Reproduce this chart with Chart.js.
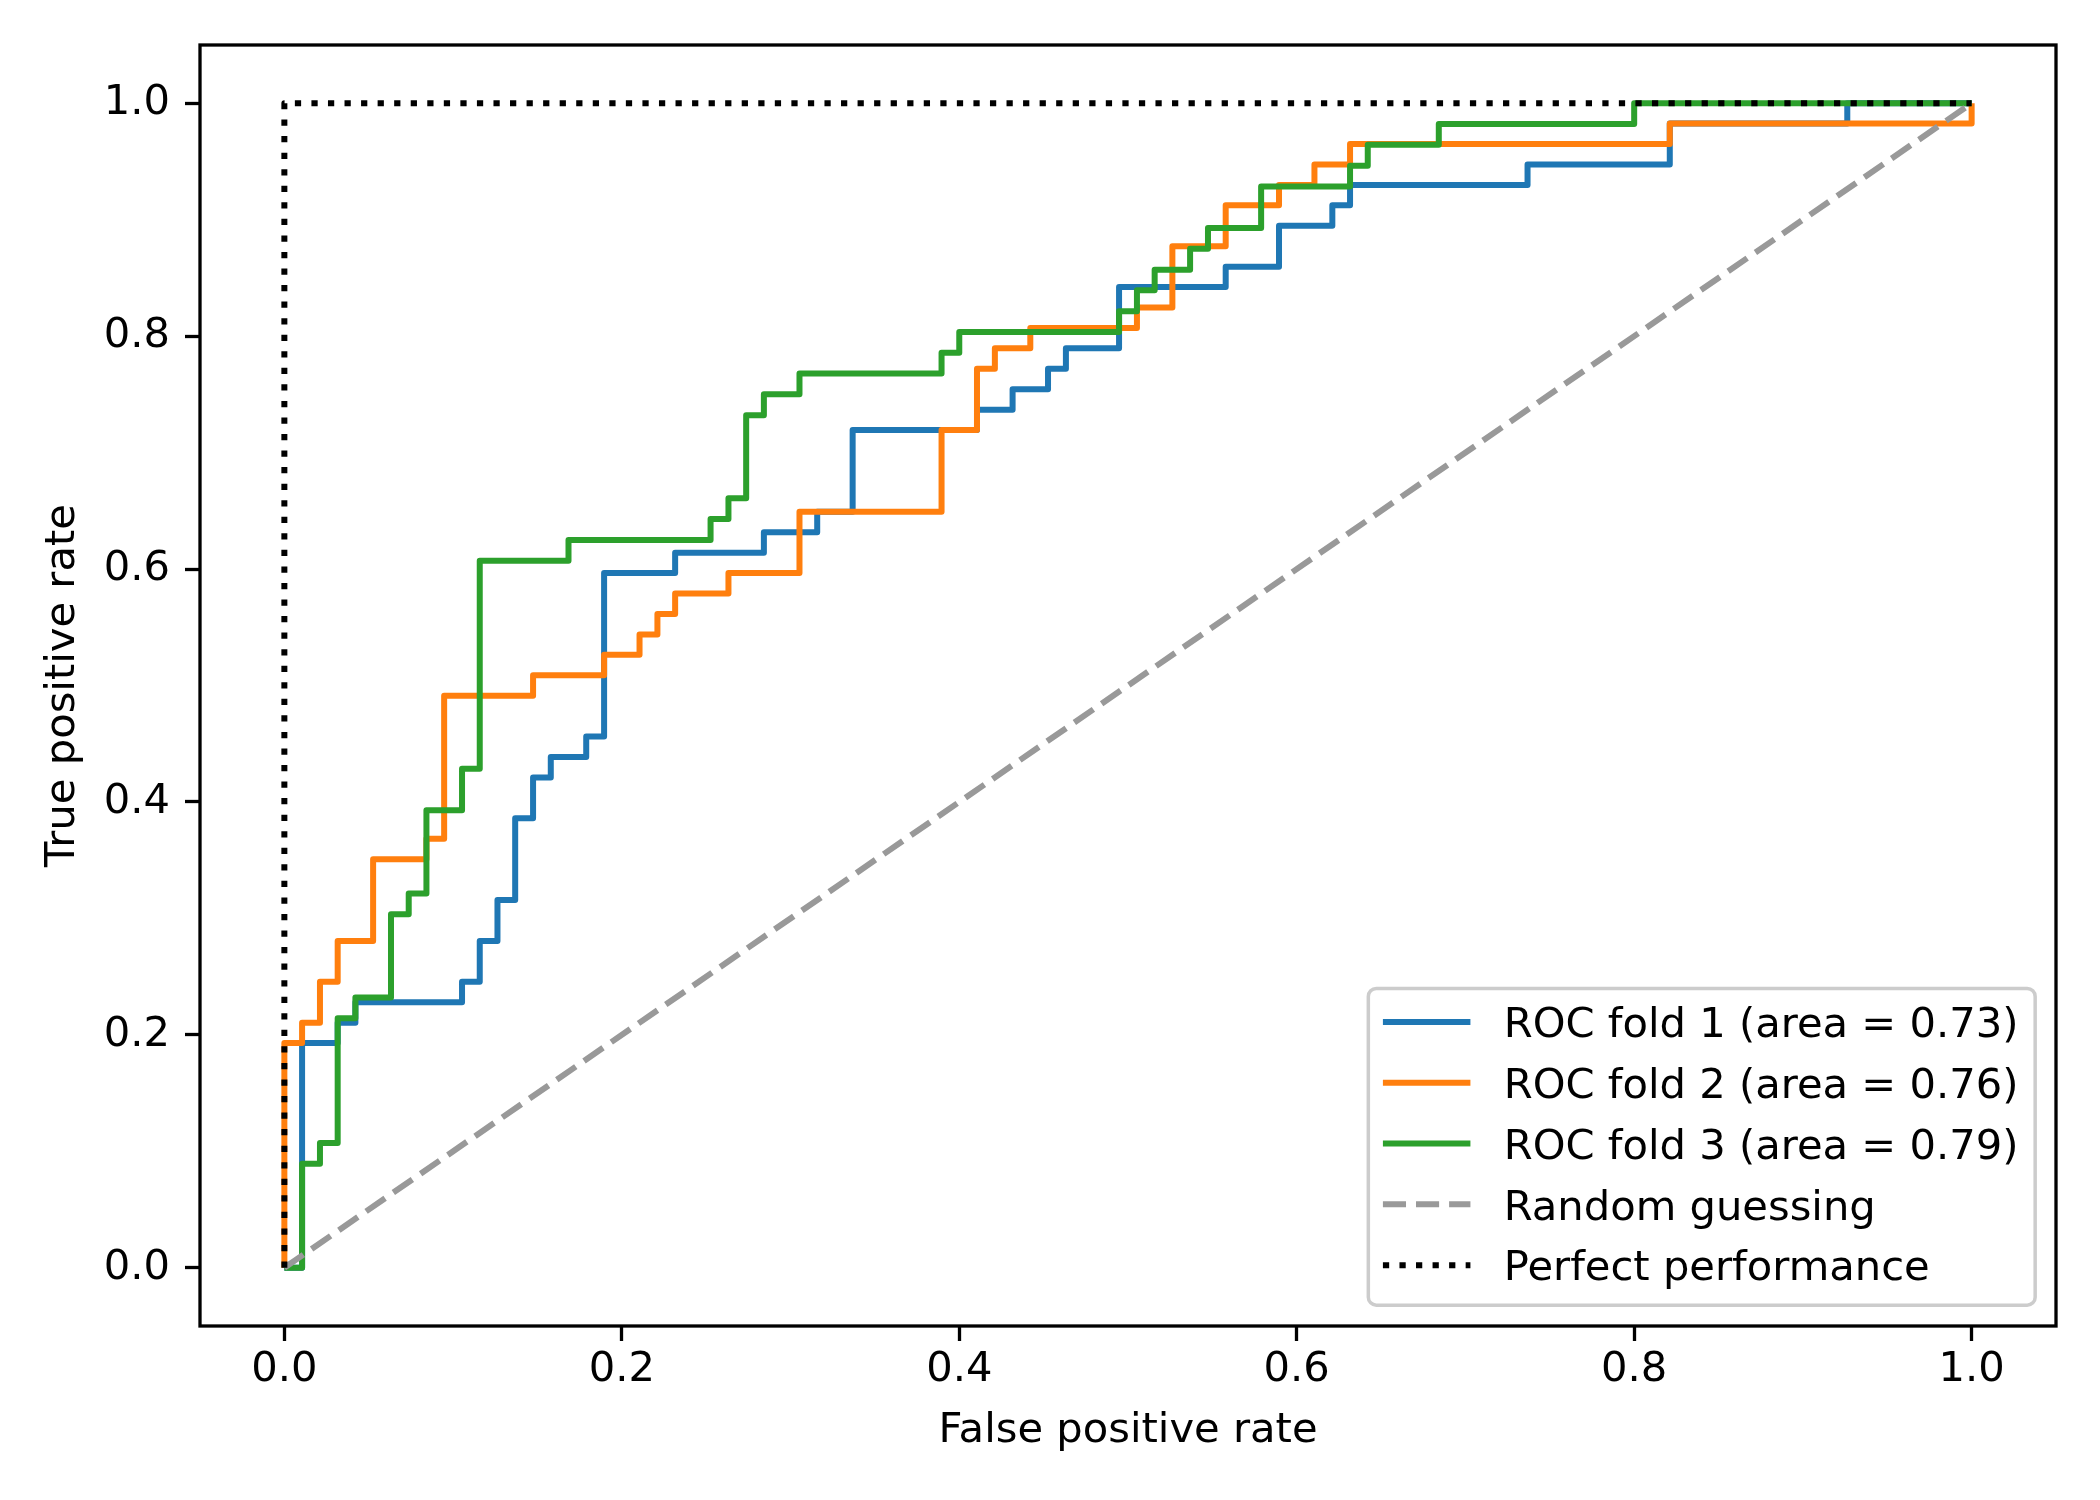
<!DOCTYPE html>
<html>
<head>
<meta charset="utf-8">
<title>ROC curves</title>
<script src="https://cdn.jsdelivr.net/npm/chart.js@4.4.1/dist/chart.umd.min.js"></script>
<style>
  html, body { margin: 0; padding: 0; background: #fff; }
  canvas { display: block; }
</style>
</head>
<body>
<canvas id="roc" width="2100" height="1500"></canvas>
<script>
// ROC points (false positive rate / true positive rate)
const fold1Fpr = [0, 0.0105, 0.0105, 0.0316, 0.0316, 0.0421, 0.0421, 0.1053, 0.1053, 0.1158, 0.1158, 0.1263, 0.1263, 0.1368, 0.1368, 0.1474, 0.1474, 0.1579, 0.1579, 0.1789, 0.1789, 0.1895, 0.1895, 0.2316, 0.2316, 0.2842, 0.2842, 0.3158, 0.3158, 0.3368, 0.3368, 0.4105, 0.4105, 0.4316, 0.4316, 0.4526, 0.4526, 0.4632, 0.4632, 0.4947, 0.4947, 0.5579, 0.5579, 0.5895, 0.5895, 0.6211, 0.6211, 0.6316, 0.6316, 0.7368, 0.7368, 0.8211, 0.8211, 0.9263, 0.9263, 1.0];
const fold1Tpr = [0, 0, 0.193, 0.193, 0.2105, 0.2105, 0.2281, 0.2281, 0.2456, 0.2456, 0.2807, 0.2807, 0.3158, 0.3158, 0.386, 0.386, 0.4211, 0.4211, 0.4386, 0.4386, 0.4561, 0.4561, 0.5965, 0.5965, 0.614, 0.614, 0.6316, 0.6316, 0.6491, 0.6491, 0.7193, 0.7193, 0.7368, 0.7368, 0.7544, 0.7544, 0.7719, 0.7719, 0.7895, 0.7895, 0.8421, 0.8421, 0.8596, 0.8596, 0.8947, 0.8947, 0.9123, 0.9123, 0.9298, 0.9298, 0.9474, 0.9474, 0.9825, 0.9825, 1.0, 1.0];

const fold2Fpr = [0, 0, 0.0105, 0.0105, 0.0211, 0.0211, 0.0316, 0.0316, 0.0526, 0.0526, 0.0842, 0.0842, 0.0947, 0.0947, 0.1474, 0.1474, 0.1895, 0.1895, 0.2105, 0.2105, 0.2211, 0.2211, 0.2316, 0.2316, 0.2632, 0.2632, 0.3053, 0.3053, 0.3895, 0.3895, 0.4105, 0.4105, 0.4211, 0.4211, 0.4421, 0.4421, 0.5053, 0.5053, 0.5263, 0.5263, 0.5579, 0.5579, 0.5895, 0.5895, 0.6105, 0.6105, 0.6316, 0.6316, 0.8211, 0.8211, 1.0, 1.0];
const fold2Tpr = [0, 0.193, 0.193, 0.2105, 0.2105, 0.2456, 0.2456, 0.2807, 0.2807, 0.3509, 0.3509, 0.3684, 0.3684, 0.4912, 0.4912, 0.5088, 0.5088, 0.5263, 0.5263, 0.5439, 0.5439, 0.5614, 0.5614, 0.5789, 0.5789, 0.5965, 0.5965, 0.6491, 0.6491, 0.7193, 0.7193, 0.7719, 0.7719, 0.7895, 0.7895, 0.807, 0.807, 0.8246, 0.8246, 0.8772, 0.8772, 0.9123, 0.9123, 0.9298, 0.9298, 0.9474, 0.9474, 0.9649, 0.9649, 0.9825, 0.9825, 1.0];

const fold3Fpr = [0, 0.0105, 0.0105, 0.0211, 0.0211, 0.0316, 0.0316, 0.0421, 0.0421, 0.0632, 0.0632, 0.0737, 0.0737, 0.0842, 0.0842, 0.1053, 0.1053, 0.1158, 0.1158, 0.1684, 0.1684, 0.2526, 0.2526, 0.2632, 0.2632, 0.2737, 0.2737, 0.2842, 0.2842, 0.3053, 0.3053, 0.3895, 0.3895, 0.4, 0.4, 0.4947, 0.4947, 0.5053, 0.5053, 0.5158, 0.5158, 0.5368, 0.5368, 0.5474, 0.5474, 0.5789, 0.5789, 0.6316, 0.6316, 0.6421, 0.6421, 0.6842, 0.6842, 0.8, 0.8, 1.0];
const fold3Tpr = [0, 0, 0.0893, 0.0893, 0.1071, 0.1071, 0.2143, 0.2143, 0.2321, 0.2321, 0.3036, 0.3036, 0.3214, 0.3214, 0.3929, 0.3929, 0.4286, 0.4286, 0.6071, 0.6071, 0.625, 0.625, 0.6429, 0.6429, 0.6607, 0.6607, 0.7321, 0.7321, 0.75, 0.75, 0.7679, 0.7679, 0.7857, 0.7857, 0.8036, 0.8036, 0.8214, 0.8214, 0.8393, 0.8393, 0.8571, 0.8571, 0.875, 0.875, 0.8929, 0.8929, 0.9286, 0.9286, 0.9464, 0.9464, 0.9643, 0.9643, 0.9821, 0.9821, 1.0, 1.0];

const randomFpr = [0, 1];
const randomTpr = [0, 1];
const perfectFpr = [0, 0, 1];
const perfectTpr = [0, 1, 1];

const foldLabels = ['ROC fold 1 (area = 0.73)', 'ROC fold 2 (area = 0.76)', 'ROC fold 3 (area = 0.79)'];
const refLabels = ['Random guessing', 'Perfect performance'];
const xTickValues = [0, 0.2, 0.4, 0.6, 0.8, 1.0];
const yTickValues = [0, 0.2, 0.4, 0.6, 0.8, 1.0];

const FONT = 'DejaVu Sans';
const FS = 41.67;   // 10pt at 300 dpi
const LW = 6;

function toPoints(xs, ys) {
    return xs.map((x, i) => ({ x: x, y: ys[i] }));
}

// closed box round the axes, like matplotlib spines
const axesFrame = {
    id: 'axesFrame',
    afterDatasetsDraw(chart) {
        const { ctx, chartArea: a } = chart;
        ctx.save();
        ctx.lineWidth = 3.3;
        ctx.strokeStyle = '#000';
        ctx.strokeRect(a.left, a.top, a.right - a.left, a.bottom - a.top);
        ctx.restore();
    }
};

// legend in the lower right corner of the plot area
const cornerLegend = {
    id: 'cornerLegend',
    afterDraw(chart) {
        const { ctx, chartArea: a } = chart;
        const sets = chart.data.datasets;
        ctx.save();
        ctx.font = FS + 'px "' + FONT + '"';
        const textW = Math.max(...sets.map(d => ctx.measureText(d.label).width));
        const right = a.right - 0.5 * FS;
        const bottom = a.bottom - 0.5 * FS;
        const textX = right - 0.4 * FS - textW;
        const handleEnd = textX - 0.8 * FS;
        const handleStart = handleEnd - 2.1 * FS;
        const left = handleStart - 0.35 * FS;
        const pitch = 60.8;
        const firstRow = bottom - 40 - pitch * (sets.length - 1);
        const top = firstRow - 33.5;

        ctx.beginPath();
        ctx.roundRect(left, top, right - left, bottom - top, 8);
        ctx.fillStyle = 'rgba(255,255,255,0.8)';
        ctx.fill();
        ctx.lineWidth = 3.5;
        ctx.strokeStyle = '#cccccc';
        ctx.stroke();

        sets.forEach((d, i) => {
            const y = firstRow + i * pitch;
            ctx.beginPath();
            ctx.setLineDash(d.borderDash || []);
            ctx.lineCap = 'butt';
            ctx.lineWidth = d.borderWidth;
            ctx.strokeStyle = d.borderColor;
            ctx.moveTo(handleStart, y);
            ctx.lineTo(handleEnd, y);
            ctx.stroke();
            ctx.setLineDash([]);
            ctx.fillStyle = '#000';
            ctx.textAlign = 'left';
            ctx.textBaseline = 'alphabetic';
            ctx.fillText(d.label, textX, y + 15.2);
        });
        ctx.restore();
    }
};

function lineSet(label, xs, ys, color, dash, order) {
    return {
        label: label,
        data: toPoints(xs, ys),
        borderColor: color,
        backgroundColor: color,
        borderWidth: LW,
        borderDash: dash,
        borderCapStyle: 'butt',
        borderJoinStyle: 'round',
        pointRadius: 0,
        fill: false,
        tension: 0,
        order: order
    };
}

const ctx = document.getElementById('roc').getContext('2d');

new Chart(ctx, {
    type: 'line',
    data: {
        datasets: [
            lineSet(foldLabels[0], fold1Fpr, fold1Tpr, '#1f77b4', [], 5),
            lineSet(foldLabels[1], fold2Fpr, fold2Tpr, '#ff7f0e', [], 4),
            lineSet(foldLabels[2], fold3Fpr, fold3Tpr, '#2ca02c', [], 3),
            lineSet(refLabels[0], randomFpr, randomTpr, '#999999', [23.1, 10], 2),
            lineSet(refLabels[1], perfectFpr, perfectTpr, '#000000', [6.25, 10.3], 1)
        ]
    },
    options: {
        responsive: false,
        animation: false,
        devicePixelRatio: 1,
        layout: { padding: { top: 45, right: 44, left: 0, bottom: 0 } },
        plugins: {
            legend: { display: false },
            tooltip: { enabled: false }
        },
        scales: {
            x: {
                type: 'linear',
                min: -0.05,
                max: 1.05,
                afterBuildTicks: s => { s.ticks = xTickValues.map(v => ({ value: v })); },
                afterFit: s => { s.height = 174; },
                ticks: {
                    padding: 4,
                    color: '#000',
                    font: { family: FONT, size: FS },
                    maxRotation: 0,
                    callback: v => v.toFixed(1)
                },
                grid: { drawOnChartArea: false, drawTicks: true, tickLength: 15, tickWidth: 3.3, tickColor: '#000' },
                border: { display: false },
                title: {
                    display: true,
                    text: 'False positive rate',
                    color: '#000',
                    font: { family: FONT, size: FS },
                    padding: { top: 0, bottom: 44 }
                }
            },
            y: {
                type: 'linear',
                min: -0.05,
                max: 1.05,
                afterBuildTicks: s => { s.ticks = yTickValues.map(v => ({ value: v })); },
                afterFit: s => { s.width = 200; },
                ticks: {
                    padding: 15,
                    color: '#000',
                    font: { family: FONT, size: FS },
                    callback: v => v.toFixed(1)
                },
                grid: { drawOnChartArea: false, drawTicks: true, tickLength: 15, tickWidth: 3.3, tickColor: '#000' },
                border: { display: false },
                title: {
                    display: true,
                    text: 'True positive rate',
                    color: '#000',
                    font: { family: FONT, size: FS },
                    padding: { top: 38, bottom: 0 }
                }
            }
        }
    },
    plugins: [axesFrame, cornerLegend]
});
</script>
</body>
</html>
